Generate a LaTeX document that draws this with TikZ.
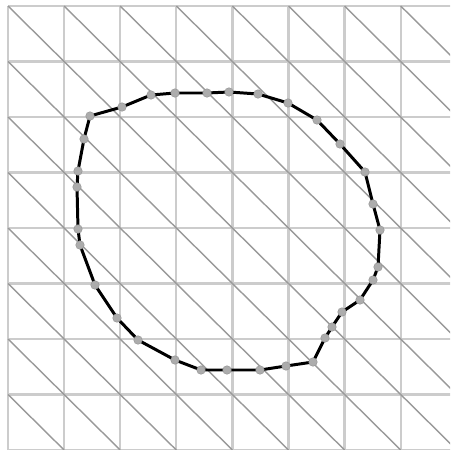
\documentclass[tikz,border=0pt]{standalone}
\begin{document}
\begin{tikzpicture}[x=0.02cm,y=-0.02cm,
  gridline/.style={draw=gray!40,line width=1.3pt},
  diagline/.style={draw=gray!80,line width=0.8pt},
  contour/.style={draw=black,line width=1.7pt,line join=round},
  dot/.style={circle,fill=gray!65,draw=gray!80,line width=0.3pt,inner sep=0pt,minimum size=0.17cm}]
\useasboundingbox[fill=white] (0,0) rectangle (450,450);
\begin{scope}
\clip (0,0) rectangle (450,450);
\foreach \i in {0,...,8} {
  \draw[gridline] ({8+56.1*\i},6) -- ({8+56.1*\i},460);
  \draw[gridline] (8,{6+55.5*\i}) -- (460,{6+55.5*\i});
}
\foreach \i in {0,...,7} {
  \foreach \j in {0,...,7} {
    \draw[diagline] ({8+56.1*\i},{6+55.5*\j}) -- ({8+56.1*(\i+1)},{6+55.5*(\j+1)});
  }
}
\end{scope}
\foreach \n/\x/\y in {1/90/116,2/122/107,3/151/95,4/175/93,5/207/93,6/229/92,7/258/94,
  8/288/103,9/317/120,10/340/144,11/365/172,12/373/204,13/380/230,14/378/267,
  15/373/280,16/360/300,17/342/312,18/332/327,19/325/338,20/313/362,21/286/366,
  22/260/370,23/227/370,24/201/370,25/175/360,26/138/340,27/117/318,28/95/285,
  29/80/245,30/78/229,31/77/187,32/78/171,33/84/139}
  \coordinate (p\n) at (\x,\y);
\draw[contour] (p1) \foreach \n in {2,...,33} { -- (p\n) } -- cycle;
\foreach \n in {1,...,33}
  \node[dot] (d\n) at (p\n) {};
\end{tikzpicture}
\end{document}
